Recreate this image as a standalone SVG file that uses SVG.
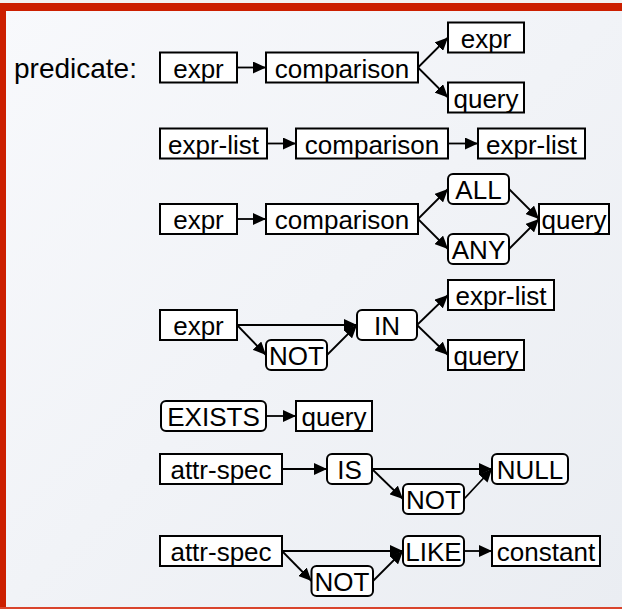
<svg xmlns="http://www.w3.org/2000/svg" width="622" height="609" viewBox="0 0 622 609">
<defs>
<linearGradient id="bg" x1="0" y1="0" x2="1" y2="1">
<stop offset="0" stop-color="#f8f9fc"/>
<stop offset="1" stop-color="#eaedf2"/>
</linearGradient>
<marker id="ah" markerUnits="userSpaceOnUse" markerWidth="14" markerHeight="12" refX="13" refY="6" orient="auto">
<path d="M0,0 L13,6 L0,12 z" fill="#000"/>
</marker>
</defs>
<style>
.b{fill:#fff;stroke:#000;stroke-width:2}
.t{font-family:"Liberation Sans",Arial,sans-serif;font-size:26px;fill:#000;text-anchor:middle}
.c line{stroke:#000;stroke-width:1.8;marker-end:url(#ah)}
</style>
<rect x="0" y="0" width="622" height="609" fill="url(#bg)"/>
<rect x="0" y="0" width="622" height="3" fill="#f2f2f2"/>
<rect x="0" y="3" width="622" height="8" fill="#cc1f00"/>
<rect x="0" y="3" width="6" height="606" fill="#cc1f00"/>
<rect x="0" y="607" width="622" height="2" fill="#d9442c"/>
<text x="14" y="78" style="font-family:'Liberation Sans',Arial,sans-serif;font-size:28px;fill:#000">predicate:</text>

<g class="c" id="connectors">
<line x1="237" y1="67.5" x2="266" y2="67.5"/>
<line x1="418" y1="67.5" x2="448" y2="37.5"/>
<line x1="418" y1="67.5" x2="448" y2="97.5"/>
<line x1="267" y1="143.5" x2="296" y2="143.5"/>
<line x1="448" y1="143.5" x2="478" y2="143.5"/>
<line x1="237" y1="219" x2="266" y2="219"/>
<line x1="418" y1="219" x2="448" y2="189"/>
<line x1="418" y1="219" x2="448" y2="249"/>
<line x1="509" y1="189" x2="539" y2="219"/>
<line x1="509" y1="249" x2="539" y2="219"/>
<line x1="237" y1="325" x2="357" y2="325"/>
<line x1="237" y1="325" x2="266" y2="355"/>
<line x1="327" y1="355" x2="357" y2="325"/>
<line x1="417" y1="325" x2="448" y2="295"/>
<line x1="417" y1="325" x2="448" y2="355"/>
<line x1="266" y1="416" x2="296" y2="416"/>
<line x1="282" y1="469" x2="327" y2="469"/>
<line x1="372" y1="469" x2="492" y2="469"/>
<line x1="372" y1="469" x2="403" y2="499"/>
<line x1="464" y1="499" x2="492" y2="469"/>
<line x1="282" y1="551" x2="403" y2="551"/>
<line x1="282" y1="551" x2="311.5" y2="581"/>
<line x1="373" y1="581" x2="403" y2="551"/>
<line x1="464" y1="551" x2="492" y2="551"/>
</g>

<g id="r1-expr"><rect class="b" x="160" y="52.5" width="77" height="30"/><text class="t" x="198.5" y="77.5">expr</text></g>
<g id="r1-comparison"><rect class="b" x="266" y="52.5" width="152" height="30"/><text class="t" x="342" y="77.5">comparison</text></g>
<g id="r1-expr2"><rect class="b" x="448" y="22.5" width="76" height="30"/><text class="t" x="486" y="47.5">expr</text></g>
<g id="r1-query"><rect class="b" x="448" y="82.5" width="76" height="30"/><text class="t" x="486" y="107.5">query</text></g>

<g id="r2-exprlist"><rect class="b" x="160" y="128.5" width="107" height="30"/><text class="t" x="213.5" y="153.5">expr-list</text></g>
<g id="r2-comparison"><rect class="b" x="296" y="128.5" width="152" height="30"/><text class="t" x="372" y="153.5">comparison</text></g>
<g id="r2-exprlist2"><rect class="b" x="478" y="128.5" width="107" height="30"/><text class="t" x="531.5" y="153.5">expr-list</text></g>

<g id="r3-expr"><rect class="b" x="160" y="204" width="77" height="30"/><text class="t" x="198.5" y="229">expr</text></g>
<g id="r3-comparison"><rect class="b" x="266" y="204" width="152" height="30"/><text class="t" x="342" y="229">comparison</text></g>
<g id="r3-all"><rect class="b" x="448" y="174" width="61" height="30" rx="5"/><text class="t" x="478.5" y="199">ALL</text></g>
<g id="r3-any"><rect class="b" x="448" y="234" width="61" height="30" rx="5"/><text class="t" x="478.5" y="259">ANY</text></g>
<g id="r3-query"><rect class="b" x="539" y="204" width="70" height="30"/><text class="t" x="574" y="229">query</text></g>

<g id="r4-expr"><rect class="b" x="160" y="310" width="77" height="30"/><text class="t" x="198.5" y="335">expr</text></g>
<g id="r4-not"><rect class="b" x="266" y="340" width="61" height="30" rx="5"/><text class="t" x="296.5" y="365">NOT</text></g>
<g id="r4-in"><rect class="b" x="357" y="310" width="60" height="30" rx="5"/><text class="t" x="387" y="335">IN</text></g>
<g id="r4-exprlist"><rect class="b" x="448" y="280" width="106" height="30"/><text class="t" x="501" y="305">expr-list</text></g>
<g id="r4-query"><rect class="b" x="448" y="340" width="76" height="30"/><text class="t" x="486" y="365">query</text></g>

<g id="r5-exists"><rect class="b" x="161" y="401" width="105" height="30" rx="5"/><text class="t" x="213.5" y="426">EXISTS</text></g>
<g id="r5-query"><rect class="b" x="296" y="401" width="76" height="30"/><text class="t" x="334" y="426">query</text></g>

<g id="r6-attrspec"><rect class="b" x="160" y="454" width="122" height="30"/><text class="t" x="221" y="479">attr-spec</text></g>
<g id="r6-is"><rect class="b" x="327" y="454" width="45" height="30" rx="5"/><text class="t" x="349.5" y="479">IS</text></g>
<g id="r6-not"><rect class="b" x="403" y="484" width="61" height="30" rx="5"/><text class="t" x="433.5" y="509">NOT</text></g>
<g id="r6-null"><rect class="b" x="492" y="454" width="76" height="30" rx="5"/><text class="t" x="530" y="479">NULL</text></g>

<g id="r7-attrspec"><rect class="b" x="160" y="536" width="122" height="30"/><text class="t" x="221" y="561">attr-spec</text></g>
<g id="r7-not"><rect class="b" x="311.5" y="566" width="61.5" height="30" rx="5"/><text class="t" x="342" y="591">NOT</text></g>
<g id="r7-like"><rect class="b" x="403" y="536" width="61" height="30" rx="5"/><text class="t" x="433.5" y="561">LIKE</text></g>
<g id="r7-constant"><rect class="b" x="492" y="536" width="108" height="30"/><text class="t" x="546" y="561">constant</text></g>
</svg>
